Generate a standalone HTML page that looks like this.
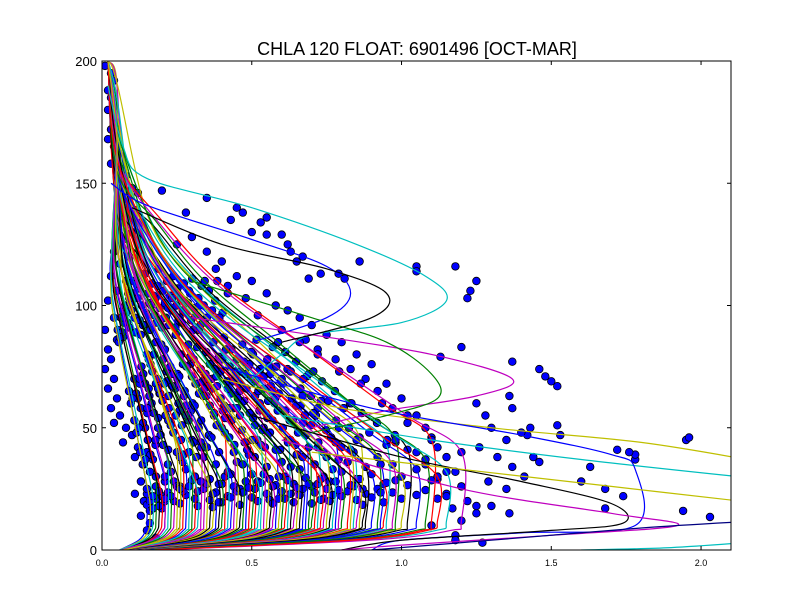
<!DOCTYPE html>
<html><head><meta charset="utf-8"><style>
html,body{margin:0;padding:0;background:#fff;}
svg{display:block;font-family:"Liberation Sans",sans-serif;}
</style></head><body>
<svg id="chart" width="812" height="612" viewBox="0 0 812 612">
<rect x="0" y="0" width="812" height="612" fill="#fff"/>
<text x="417" y="55" text-anchor="middle" font-size="18">CHLA 120 FLOAT: 6901496 [OCT-MAR]</text>
<defs><clipPath id="clip"><rect x="102" y="61" width="629" height="489"/></clipPath></defs>
<g id="plot" clip-path="url(#clip)"></g>
<rect x="102" y="61" width="629" height="489" fill="none" stroke="#000" stroke-width="1"/>
<g id="axes"></g>
</svg>
<script>
// ---- data ----
const xTicks = [0.0, 0.5, 1.0, 1.5, 2.0];
const xTickLabels = ["0.0", "0.5", "1.0", "1.5", "2.0"];
const yTicks = [0, 50, 100, 150, 200];
const yTickLabels = ["0", "50", "100", "150", "200"];

// bulk profiles: plateau value, mixed-layer depth, decay span
const plateau = [0.15,0.18,0.2,0.22,0.24,0.25,0.26,0.28,0.3,0.31,0.32,0.34,0.35,0.36,0.38,0.4,0.41,0.42,0.44,0.45,0.46,0.48,0.5,0.51,0.52,0.54,0.55,0.56,0.58,0.6,0.61,0.62,0.64,0.65,0.66,0.68,0.7,0.71,0.72,0.74,0.75,0.76,0.78,0.8,0.82,0.84,0.85,0.86,0.88,0.9,0.92,0.94,0.95,0.97,1.0,1.02,1.05,1.08,1.1,1.15,1.2,0.16,0.19,0.21,0.23,0.27,0.29,0.33,0.37,0.39,0.43,0.47,0.49,0.53,0.57,0.59,0.63,0.67,0.69,0.73,0.77,0.79,0.83,0.87,0.93,0.98,1.12,0.17,0.21,0.26];
const mld = [25,30,22,35,28,40,26,33,45,30,24,38,42,29,35,27,48,32,40,36,25,44,31,38,28,50,34,29,41,36,30,45,27,39,33,47,26,35,42,30,38,28,44,32,36,40,29,46,34,31,38,27,43,35,30,41,33,37,45,32,40,20,24,28,32,36,40,44,23,27,31,35,39,43,26,30,34,38,42,29,33,37,41,25,35,45,30,22,30,38];
const decay = [120,140,110,130,115,150,125,105,135,120,145,110,130,115,140,125,105,120,150,115,130,110,140,120,105,135,125,145,115,130,120,140,110,125,135,105,150,115,130,120,140,110,125,135,115,130,120,145,110,125,135,115,130,120,140,110,125,135,115,130,120,150,140,130,120,115,110,105,145,135,125,120,115,110,140,130,125,120,115,135,130,125,115,140,120,110,130,150,140,130];

// highlighted outlier profiles [x, depth]
const outlierProfiles = [
  {c:"#00bfbf", pts:[[0.02,190],[0.07,165],[0.15,152],[0.5,140],[0.85,125],[1.08,112],[1.15,102],[1.0,93],[0.7,88],[0.6,80],[0.5,70]]},
  {c:"#0000ff", pts:[[0.03,150],[0.15,141],[0.5,127],[0.75,116],[0.83,105],[0.75,95],[0.5,85]]},
  {c:"#bf00bf", pts:[[0.3,95],[0.7,88],[1.1,80],[1.37,70],[1.25,63],[0.95,57],[0.7,50]]},
  {c:"#bfbf00", pts:[[0.4,70],[0.8,58],[1.3,50],[1.8,44],[2.2,36]]},
  {c:"#00bfbf", pts:[[0.6,55],[1.1,45],[1.6,37],[2.2,29]]},
  {c:"#0000ff", pts:[[0.4,75],[0.9,58],[1.4,47],[1.7,39],[1.78,33],[1.78,10],[1.4,7],[1.0,4],[0.9,0]]},
  {c:"#000000", pts:[[0.5,55],[1.0,38],[1.4,28],[1.7,19],[1.74,11],[1.5,8],[1.0,4],[0.8,0]]},
  {c:"#bf00bf", pts:[[0.6,45],[1.2,25],[1.7,15],[1.92,10],[1.5,6],[1.0,2],[0.8,0]]},
  {c:"#bfbf00", pts:[[0.7,40],[1.2,33],[1.7,26],[2.2,19]]},
  {c:"#00bfbf", pts:[[1.6,0],[1.9,1],[2.2,3.5]]},
  {c:"#000080", pts:[[0.9,0],[1.3,4],[1.8,9],[2.2,12]]},
  {c:"#008000", pts:[[0.3,110],[0.7,95],[0.95,85],[1.1,72],[1.12,62],[0.95,55],[0.7,48]]},
  {c:"#000000", pts:[[0.1,140],[0.4,125],[0.75,115],[0.95,105],[0.9,95],[0.6,85]]}
];

const scatterPoints = [
[0.01,198],[0.03,195],[0.04,192],[0.02,188],[0.03,185],[0.02,180],[0.04,176],[0.03,172],[0.02,168],[0.04,165],[0.05,162],[0.03,158],[0.06,156],[0.08,153],[0.05,150],[0.07,147],[0.1,148],[0.12,146],[0.09,143],[0.06,140],[0.11,139],[0.08,136],[0.13,134],[0.05,132],[0.1,130],[0.07,127],[0.12,125],[0.04,122],[0.09,120],[0.06,117],[0.03,112],[0.08,110],[0.05,106],[0.02,102],[0.07,98],[0.04,95],[0.01,90],[0.05,86],[0.02,82],[0.03,78],[0.01,74],[0.04,70],[0.02,66],[0.05,62],[0.03,58],[0.06,55],[0.04,52],[0.08,50],[0.1,47],[0.07,44],[0.12,42],[0.15,40],[0.11,38],[0.14,35],[0.16,32],[0.13,28],[0.18,26],[0.15,23],[0.11,23],[0.14,20],[0.17,17],[0.13,14],[0.16,11],[0.15,8],[0.18,5],
[0.2,147],[0.28,138],[0.35,144],[0.45,140],[0.47,138],[0.43,135],[0.53,134],[0.55,136],[0.5,130],[0.55,129],[0.6,129],[0.62,125],[0.65,118],[0.63,122],[0.67,120],[0.73,113],[0.69,111],[0.79,113],[0.81,111],[0.3,128],[0.25,125],[0.35,122],[0.4,118],[0.38,115],[0.45,112],[0.5,110],[0.42,108],[0.55,105],[0.48,103],[0.58,100],[0.62,98],[0.52,96],[0.66,95],[0.7,92],[0.6,90],[0.75,88],[0.68,86],[0.8,85],[0.72,82],[0.85,80],[0.78,78],[0.9,76],[0.83,74],[0.88,70],[0.95,68],[0.92,65],[1.0,62],[0.97,58],[1.05,55],[1.02,52],[1.08,50],[1.1,46],[0.98,44],[1.12,42],[1.05,40],[1.15,38],[1.08,35],[1.18,32],[1.12,29],[1.2,26],[1.15,23],[1.22,20],[1.17,17],[1.25,15],[1.2,12],[1.1,10],[1.18,6],[1.18,4],[1.27,3],
[1.95,45],[1.96,46],[1.94,16],[2.03,13.5],[1.78,37],[1.78,39],[1.76,40],[1.72,41],[1.63,34],[1.6,28],[1.68,25],[1.74,22],[1.68,17],[1.52,67],[1.5,69],[1.48,71],[1.46,74],[1.52,51],[1.53,47],[1.46,36],[1.44,38],[1.42,47],[1.43,50],[1.4,48],[1.41,30],[1.37,34],[1.37,58],[1.36,63],[1.37,77],[1.35,45],[1.18,116],[1.23,106],[1.22,103],[1.25,110],[1.05,116],[1.05,114],[0.86,118],[1.2,83],[1.13,79],[1.25,60],[1.28,55],[1.3,50],[1.26,42],[1.32,38],[1.29,28],[1.35,25],[1.25,18],[1.3,18],[1.36,15]
];

// ---- axes ----
const X0 = 102, X1 = 731, Y0 = 550, Y1 = 61;
const xScale = v => X0 + v / 2.1 * (X1 - X0);
const yScale = v => Y0 - v / 200 * (Y0 - Y1);
const NS = "http://www.w3.org/2000/svg";
const plot = document.getElementById("plot");
const axes = document.getElementById("axes");
const colors = ["#0000ff","#008000","#ff0000","#00bfbf","#bf00bf","#bfbf00","#000000"];

function smoothPath(pts) {
  const p = pts.map(q => [xScale(q[0]), yScale(q[1])]);
  let d = "M" + p[0][0].toFixed(1) + "," + p[0][1].toFixed(1);
  for (let i = 0; i < p.length - 1; i++) {
    const a = p[i-1] || p[i], b = p[i], c = p[i+1], e = p[i+2] || c;
    const c1 = [b[0] + (c[0]-a[0])/6, b[1] + (c[1]-a[1])/6];
    const c2 = [c[0] - (e[0]-b[0])/6, c[1] - (e[1]-b[1])/6];
    d += "C" + c1[0].toFixed(1) + "," + c1[1].toFixed(1) + " " + c2[0].toFixed(1) + "," + c2[1].toFixed(1) + " " + c[0].toFixed(1) + "," + c[1].toFixed(1);
  }
  return d;
}

function profileKnots(P, M, D) {
  const b = 0.04 + P * 0.12;
  return [[b,0],[0.7*P+0.3*b,4],[0.97*P,8],[P,12],[P,M],[0.85*P,M+15],[0.6*P,M+40],[0.35*P,M+65],[0.18*P,M+90],[0.05,M+D],[0.02,200]];
}

const dotLayer = [];
const lineLayer = [];
// bulk profiles
plateau.forEach((P, i) => {
  const M = mld[i], D = decay[i];
  const pts = profileKnots(P, M, D);
  const path = document.createElementNS(NS, "path");
  path.setAttribute("d", smoothPath(pts));
  path.setAttribute("fill", "none");
  path.setAttribute("stroke", colors[i % colors.length]);
  path.setAttribute("stroke-width", "1.2");
  
  
  lineLayer.push(path);
  // observations along this profile
  [[P, (M+12)/2],[P, M],[0.85*P, M+15],[0.72*P, M+28],[0.6*P, M+40],[0.35*P, M+65]].forEach(q => dotLayer.push(q));
});

// scatter (beneath lines)
scatterPoints.concat(dotLayer).forEach(s => {
  const c = document.createElementNS(NS, "circle");
  c.setAttribute("cx", xScale(s[0]).toFixed(1));
  c.setAttribute("cy", yScale(s[1]).toFixed(1));
  c.setAttribute("r", "3.8");
  c.setAttribute("fill", "#0000ff");
  c.setAttribute("stroke", "#000");
  c.setAttribute("stroke-width", "0.8");
  
  
  plot.appendChild(c);
});
lineLayer.forEach(p => plot.appendChild(p));

// outlier profiles
outlierProfiles.forEach(o => {
  const path = document.createElementNS(NS, "path");
  path.setAttribute("d", smoothPath(o.pts));
  path.setAttribute("fill", "none");
  path.setAttribute("stroke", o.c);
  path.setAttribute("stroke-width", "1.2");
  
  
  plot.appendChild(path);
});

// ticks
xTicks.forEach((v, i) => {
  const x = xScale(v);
  [[Y0, Y0-4],[Y1, Y1+4]].forEach(t => {
    const l = document.createElementNS(NS, "line");
    l.setAttribute("x1", x); l.setAttribute("x2", x);
    l.setAttribute("y1", t[0]); l.setAttribute("y2", t[1]);
    l.setAttribute("stroke", "#000");
    
    
    axes.appendChild(l);
  });
  const tx = document.createElementNS(NS, "text");
  tx.setAttribute("x", x); tx.setAttribute("y", 566);
  tx.setAttribute("text-anchor", "middle");
  tx.setAttribute("font-size", "9");
  tx.textContent = xTickLabels[i];
  
  
  axes.appendChild(tx);
});
yTicks.forEach((v, i) => {
  const y = yScale(v);
  [[X0, X0+4],[X1, X1-4]].forEach(t => {
    const l = document.createElementNS(NS, "line");
    l.setAttribute("x1", t[0]); l.setAttribute("x2", t[1]);
    l.setAttribute("y1", y); l.setAttribute("y2", y);
    l.setAttribute("stroke", "#000");
    
    
    axes.appendChild(l);
  });
  const tx = document.createElementNS(NS, "text");
  tx.setAttribute("x", 97); tx.setAttribute("y", y + 5);
  tx.setAttribute("text-anchor", "end");
  tx.setAttribute("font-size", "13");
  tx.textContent = yTickLabels[i];
  
  
  axes.appendChild(tx);
});
</script>
</body></html>
